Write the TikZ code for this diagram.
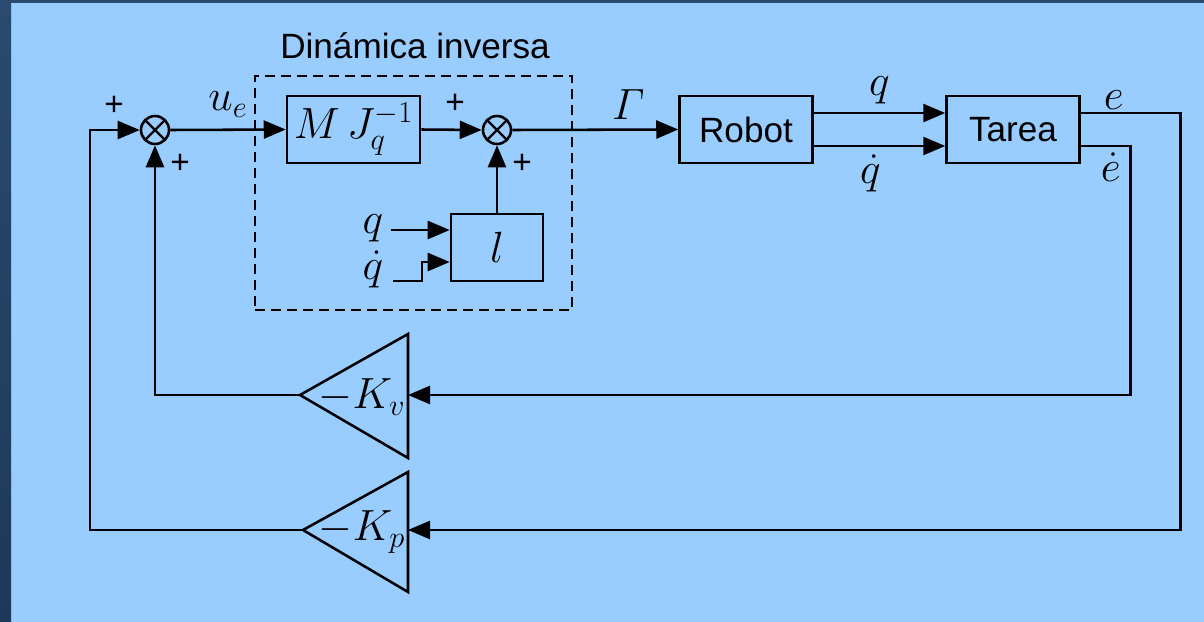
\documentclass[tikz,border=0pt]{standalone}
\usepackage{amsmath}
\usepackage{fontspec}
\setsansfont{Liberation Sans}
\usetikzlibrary{arrows.meta,positioning,calc}
\definecolor{fond}{RGB}{153,204,255}
\definecolor{marine}{RGB}{42,74,112}
\definecolor{marinef}{RGB}{30,56,88}

\begin{document}
\begin{tikzpicture}[x=0.02cm,y=-0.02cm,line width=1.45pt,
	>={Triangle[length=0.44cm,width=0.36cm]},
	bloc/.style={draw,minimum width=2.66cm,minimum height=1.34cm,inner sep=0pt},
	somme/.style={draw,circle,minimum size=0.56cm,inner sep=0pt,
		path picture={\draw[line width=1.3pt] (path picture bounding box.north west)--(path picture bounding box.south east)
			(path picture bounding box.north east)--(path picture bounding box.south west);}},
	txt/.style={font=\sffamily\fontsize{20}{24}\selectfont},
	mth/.style={font=\fontsize{23}{27}\selectfont},
	signe/.style={font=\sffamily\fontsize{19}{20}\selectfont,inner sep=0pt},
	cadre/.style={draw,dashed,line width=1.2pt,dash pattern=on 0.2cm off 0.12cm,minimum width=6.34cm,minimum height=4.68cm}]
	\fill[fond](0,0) rectangle (1204,622);
	\shade[top color=marine,bottom color=marinef](0,0) rectangle (11,622);
	\fill[marine](0,0) rectangle (1204,3);
	\useasboundingbox (0,0) rectangle (1204,622);
	% blocs
	\node[cadre] (dyn) at (413.5,193) {};
	\node[txt,anchor=base] (titre) at (415,58) {Dinámica inversa};
	\node[somme] (s1) at (155,130) {};
	\node[bloc,font=\fontsize{25}{29}\selectfont] (mj) at (353.5,129.5) {$M\,J_q^{-1}$};
	\node[somme] (s2) at (497,130) {};
	\node[bloc,minimum width=1.84cm,font=\fontsize{26}{30}\selectfont] (l) at (497,247.5) {$l$};
	\node[bloc,txt] (robot) at (746,129.5) {Robot};
	\node[bloc,txt] (tarea) at (1013,129.5) {Tarea};
	\coordinate (kvtip) at (300,395);
	\coordinate (kvin) at (408,395);
	\coordinate (kptip) at (303,530);
	\coordinate (kpin) at (408,530);
	\draw(kvtip)--(408,334)--(408,458)--cycle;
	\draw(kptip)--(408,472)--(408,592)--cycle;
	\node[font=\fontsize{26}{30}\selectfont] (kv) at (362,397) {$-K_v$};
	\node[font=\fontsize{26}{30}\selectfont] (kp) at (362,532) {$-K_p$};
	% liaisons
	\draw[->](s1.east)--(mj.west) node[mth,midway,above=3pt]{$u_e$};
	\draw[->](mj.east)--(s2.west);
	\draw[->](l.north)--(s2.south);
	\draw[->](s2.east)--(robot.west) node[mth,pos=0.7,above=2pt]{$\varGamma$};
	\draw[->]([yshift=0.33cm]robot.east)--([yshift=0.33cm]tarea.west) node[mth,midway,above=1pt]{$q$};
	\draw[->]([yshift=-0.33cm]robot.east)--([yshift=-0.33cm]tarea.west) node[mth,pos=0.43,below=1pt]{$\dot q$};
	\draw[->]([yshift=0.33cm]tarea.east)--++(100,0) node[mth,pos=0.33,above=-2pt]{$e$} |-(kpin);
	\draw[->]([yshift=-0.33cm]tarea.east)--++(50,0) node[mth,pos=0.6,below=0pt]{$\dot e$} |-(kvin);
	\draw[->](kvtip)-|(s1.south);
	\draw[->](kptip)--++(-213,0)|-(s1.west);
	\node[mth] (qlab) at (373,228) {$q$};
	\node[mth] (qdlab) at (373,269) {$\dot q$};
	\draw[->](391,230)--(l.west|-0,230);
	\draw[->](393,281)--(422,281)--(422,262)--(l.west|-0,262);
	% signes
	\node[signe] at (114,106) {+};
	\node[signe] at (180,164) {+};
	\node[signe] at (455,104) {+};
	\node[signe] at (522,164) {+};
\end{tikzpicture}
\end{document}
